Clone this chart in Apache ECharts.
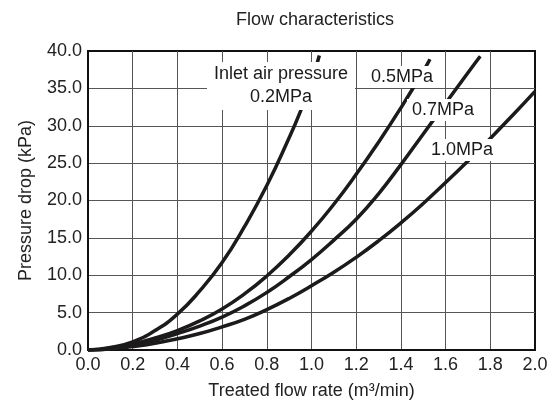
<!DOCTYPE html>
<html>
<head>
<meta charset="utf-8">
<script src="https://cdn.jsdelivr.net/npm/echarts@6/dist/echarts.min.js"></script>
<style>html,body{margin:0;padding:0;background:#fff}#c{width:556px;height:405px}</style>
</head>
<body>
<div id="c"></div>
<script>
var xTicks = ['0.0','0.2','0.4','0.6','0.8','1.0','1.2','1.4','1.6','1.8','2.0'];
var yTicks = ['0.0','5.0','10.0','15.0','20.0','25.0','30.0','35.0','40.0'];

var flow02 = [0, 0.1, 0.2, 0.3, 0.4, 0.5, 0.6, 0.7, 0.8, 0.9, 0.95, 1.0, 1.035];
var drop02 = [0, 0.35, 1.1, 2.6, 4.8, 7.9, 11.7, 16.5, 22.0, 28.4, 31.9, 35.9, 39.4];

var flow05 = [0, 0.1, 0.2, 0.3, 0.4, 0.5, 0.6, 0.7, 0.8, 0.9, 1.0, 1.1, 1.2, 1.3, 1.4, 1.5, 1.53];
var drop05 = [0, 0.25, 0.8, 1.6, 2.6, 3.9, 5.5, 7.5, 9.9, 12.7, 15.9, 19.5, 23.5, 27.8, 32.4, 37.3, 38.9];

var flow07 = [0, 0.1, 0.2, 0.3, 0.4, 0.5, 0.6, 0.7, 0.8, 0.9, 1.0, 1.1, 1.2, 1.3, 1.4, 1.5, 1.6, 1.7, 1.755];
var drop07 = [0, 0.18, 0.6, 1.3, 2.2, 3.2, 4.4, 5.9, 7.7, 9.8, 12.1, 14.7, 17.5, 20.9, 24.8, 28.9, 33.0, 37.1, 39.3];

var flow10 = [0, 0.1, 0.2, 0.3, 0.4, 0.5, 0.6, 0.7, 0.8, 0.9, 1.0, 1.1, 1.2, 1.3, 1.4, 1.5, 1.6, 1.7, 1.8, 1.9, 2.0];
var drop10 = [0, 0.12, 0.45, 0.9, 1.5, 2.2, 3.1, 4.1, 5.4, 6.9, 8.6, 10.4, 12.4, 14.6, 17.0, 19.6, 22.4, 25.3, 28.3, 31.4, 34.6];

var seriesNames = ['0.2MPa', '0.5MPa', '0.7MPa', '1.0MPa'];

function pairs(xs, ys) { return xs.map(function (x, i) { return [x, ys[i]]; }); }

var FONT = 'Liberation Sans, Arial, Helvetica, sans-serif';
var chart = echarts.init(document.getElementById('c'), null, { renderer: 'canvas' });

var lineStyle = { color: '#1c1a1a', width: 3.5 };
function mk(name, xs, ys) {
  return { name: name, type: 'line', data: pairs(xs, ys), smooth: 0.5, symbol: 'none',
           lineStyle: lineStyle, z: 3, clip: true };
}

function labelBox(lines, cx, cy, w, h, lineH) {
  var els = [{ type: 'rect', shape: { x: cx - w / 2, y: cy - h / 2, width: w, height: h },
               style: { fill: '#fff' }, z: 50 }];
  lines.forEach(function (t, i) {
    els.push({ type: 'text', x: cx, y: cy - (lines.length - 1) * lineH / 2 + i * lineH, z: 51,
      style: { text: t, fill: '#1a1a1a', font: '18px ' + FONT, textAlign: 'center', textVerticalAlign: 'middle' } });
  });
  return els;
}

var graphics = []
  .concat(labelBox(['Inlet air pressure', seriesNames[0]], 281, 86, 148, 48, 23))
  .concat(labelBox([seriesNames[1]], 402, 77, 70, 22, 23))
  .concat(labelBox([seriesNames[2]], 443, 110, 72, 22, 23))
  .concat(labelBox([seriesNames[3]], 462, 150, 70, 22, 23));

chart.setOption({
  animation: false,
  backgroundColor: '#fff',
  title: { text: 'Flow characteristics', left: 231, top: 6,
           textStyle: { fontFamily: FONT, fontSize: 18, fontWeight: 'normal', color: '#222' } },
  grid: { left: 88, right: 21, top: 51, bottom: 54, show: true, borderColor: '#111', borderWidth: 2, backgroundColor: 'transparent' },
  xAxis: {
    type: 'value', min: 0, max: 2, interval: 0.2,
    name: 'Treated flow rate (m³/min)', nameLocation: 'middle', nameGap: 32,
    nameTextStyle: { fontFamily: FONT, fontSize: 18, color: '#222' },
    axisLine: { show: true, lineStyle: { color: '#111', width: 2 } },
    axisTick: { show: false },
    axisLabel: { margin: 6, fontFamily: FONT, fontSize: 18, color: '#222',
                 formatter: function (v) { return xTicks[Math.round(v / 0.2)]; } },
    splitLine: { show: true, showMinLine: false, showMaxLine: false, lineStyle: { color: '#555', width: 1 } }
  },
  yAxis: {
    type: 'value', min: 0, max: 40, interval: 5,
    name: 'Pressure drop (kPa)', nameLocation: 'middle', nameGap: 53,
    nameTextStyle: { fontFamily: FONT, fontSize: 18, color: '#222' },
    axisLine: { show: true, lineStyle: { color: '#111', width: 2 } },
    axisTick: { show: false },
    axisLabel: { margin: 6, fontFamily: FONT, fontSize: 18, color: '#222',
                 formatter: function (v) { return yTicks[Math.round(v / 5)]; } },
    splitLine: { show: true, showMinLine: false, showMaxLine: false, lineStyle: { color: '#555', width: 1 } }
  },
  series: [
    mk(seriesNames[0], flow02, drop02),
    mk(seriesNames[1], flow05, drop05),
    mk(seriesNames[2], flow07, drop07),
    mk(seriesNames[3], flow10, drop10)
  ],
  graphic: { elements: graphics }
});
</script>
</body>
</html>
